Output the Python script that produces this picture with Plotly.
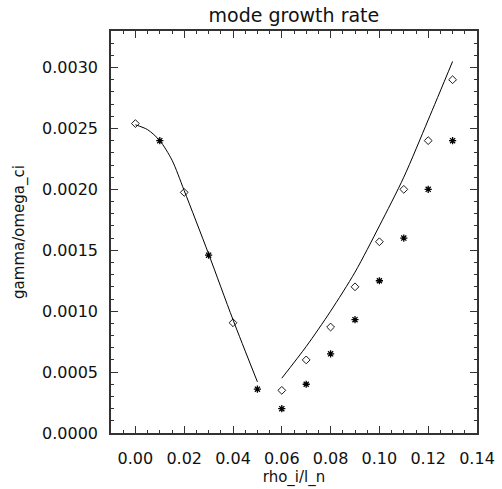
import plotly.graph_objects as go

# Data
diamond_x = [0.00, 0.02, 0.04, 0.06, 0.07, 0.08, 0.09, 0.10, 0.11, 0.12, 0.13]
diamond_y = [0.00254, 0.001975, 0.000905, 0.00035, 0.00060, 0.00087, 0.00120, 0.00157, 0.00200, 0.00240, 0.00290]

star_x = [0.01, 0.03, 0.05, 0.06, 0.07, 0.08, 0.09, 0.10, 0.11, 0.12, 0.13]
star_y = [0.00240, 0.00146, 0.00036, 0.00020, 0.00040, 0.00065, 0.00093, 0.00125, 0.00160, 0.00200, 0.00240]

fit_left_x = [0.000, 0.005, 0.010, 0.015, 0.020, 0.030, 0.040, 0.050]
fit_left_y = [0.00253, 0.00249, 0.00240, 0.00224, 0.00199, 0.00147, 0.00093, 0.00042]

fit_right_x = [0.06, 0.07, 0.08, 0.09, 0.10, 0.11, 0.12, 0.13]
fit_right_y = [0.00045, 0.00071, 0.00100, 0.00132, 0.00170, 0.00210, 0.00257, 0.00305]

FONT = "DejaVu Sans"

fig = go.Figure()
fig.add_trace(go.Scatter(x=fit_left_x, y=fit_left_y, mode="lines",
                         line=dict(color="black", width=1, shape="spline", smoothing=0.8),
                         showlegend=False, hoverinfo="skip"))
fig.add_trace(go.Scatter(x=fit_right_x, y=fit_right_y, mode="lines",
                         line=dict(color="black", width=1, shape="spline", smoothing=0.8),
                         showlegend=False, hoverinfo="skip"))
fig.add_trace(go.Scatter(x=diamond_x, y=diamond_y, mode="markers",
                         marker=dict(symbol="diamond-open", size=6, color="black",
                                     line=dict(width=0.9, color="black")),
                         showlegend=False))
fig.add_trace(go.Scatter(x=star_x, y=star_y, mode="markers",
                         marker=dict(symbol="asterisk-open", size=6, color="black",
                                     line=dict(width=1.3, color="black")),
                         showlegend=False))

axis_common = dict(
    showgrid=False, zeroline=False, showline=True, linecolor="#333", linewidth=1.5,
    mirror="ticks", ticks="inside", ticklen=7, tickwidth=1.2, tickcolor="#333",
    tickfont=dict(family=FONT, size=16, color="#111"), automargin=False,
)

fig.update_layout(
    width=502, height=489,
    margin=dict(l=111, r=25, t=31, b=56),
    paper_bgcolor="white", plot_bgcolor="white",
    title=dict(text="mode growth rate", x=0.5855, xanchor="center",
               y=1 - 15 / 489, yanchor="middle", yref="container",
               font=dict(family=FONT, size=19, color="#111")),
    xaxis=dict(range=[-0.01, 0.14], tick0=0, dtick=0.02, tickformat=".2f",
               minor=dict(dtick=0.005, ticks="inside", ticklen=3.5, tickcolor="#333", showgrid=False),
               ticklabelstandoff=10,
               title=dict(text="rho_i/l_n", font=dict(family=FONT, size=15, color="#111"), standoff=3),
               **axis_common),
    yaxis=dict(range=[0, 0.0033], tick0=0, dtick=0.0005, tickformat=".4f",
               minor=dict(dtick=0.0001, ticks="inside", ticklen=3.5, tickcolor="#333", showgrid=False),
               ticklabelstandoff=8,
               title=dict(text="gamma/omega_ci", font=dict(family=FONT, size=15, color="#111"), standoff=14),
               **axis_common),
)

fig.write_html("out.html")
